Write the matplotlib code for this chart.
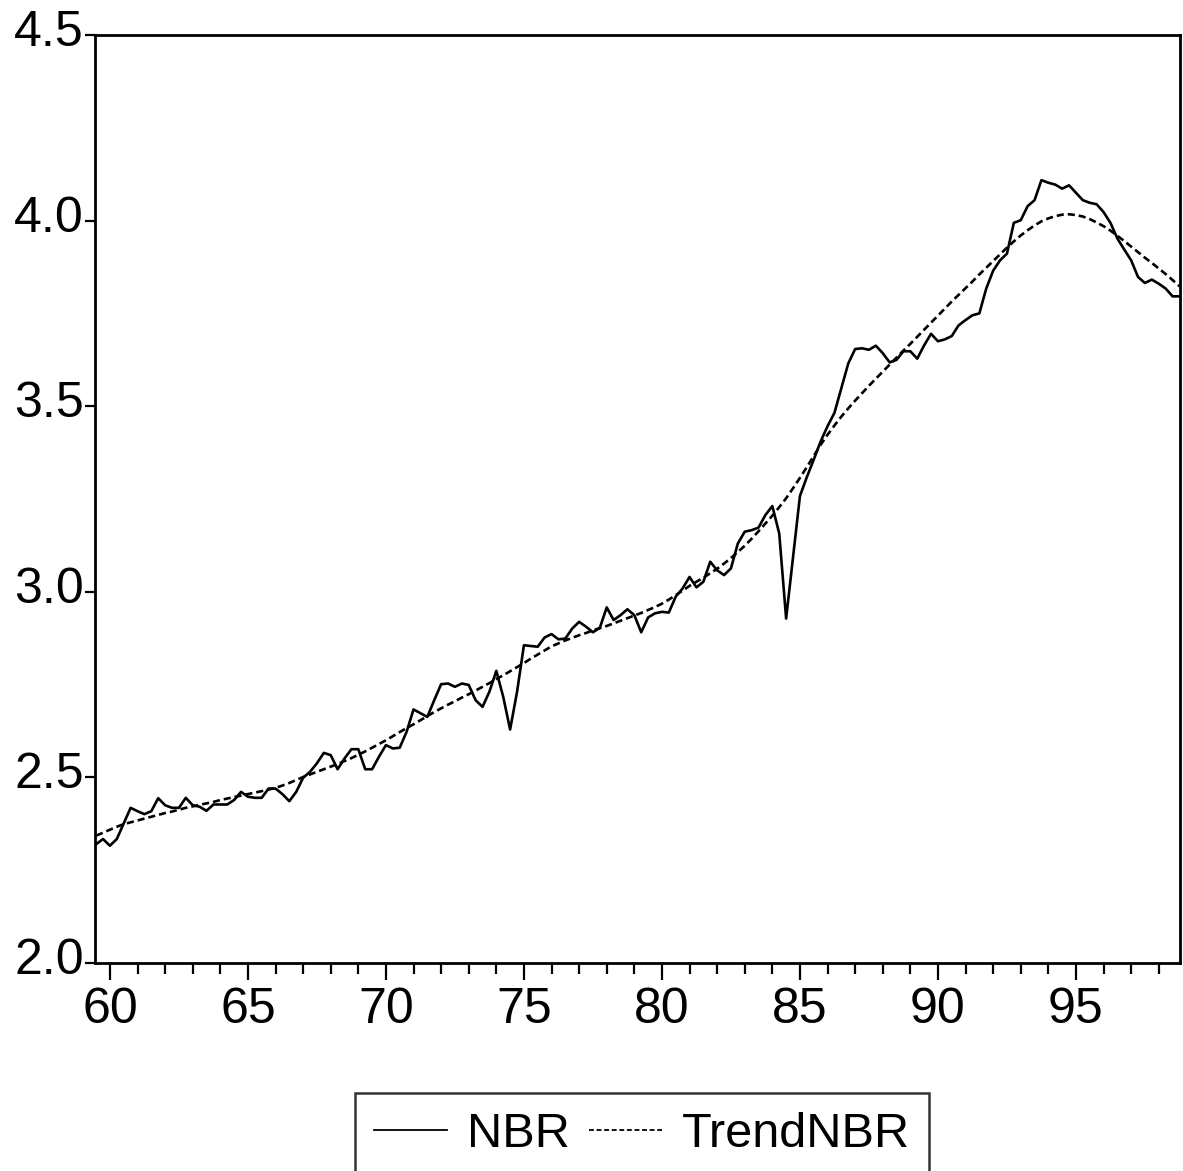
import matplotlib
matplotlib.use("Agg")
import matplotlib.pyplot as plt
import matplotlib.transforms as mtransforms
import numpy as np

plt.rcParams['font.family'] = ['Liberation Sans', 'DejaVu Sans']

# quarterly observations, 1959Q3 .. 1998Q4 (x in years, 2-digit)
start_year = 59.5
nbr = [
    2.320, 2.334, 2.316, 2.334, 2.376, 2.418, 2.409, 2.401, 2.409, 2.444,
    2.425, 2.418, 2.418, 2.445, 2.425, 2.421, 2.410, 2.427, 2.427, 2.427,
    2.439, 2.461, 2.448, 2.445, 2.445, 2.470, 2.470, 2.455, 2.436, 2.461,
    2.499, 2.515, 2.538, 2.566, 2.560, 2.522, 2.551, 2.576, 2.576, 2.522,
    2.522, 2.556, 2.587, 2.578, 2.580, 2.623, 2.683, 2.673, 2.663, 2.708,
    2.751, 2.753, 2.744, 2.753, 2.749, 2.708, 2.690, 2.731, 2.787, 2.717,
    2.629, 2.730, 2.856, 2.854, 2.852, 2.877, 2.886, 2.872, 2.874, 2.901,
    2.919, 2.906, 2.891, 2.903, 2.958, 2.924, 2.937, 2.953, 2.937, 2.891,
    2.931, 2.942, 2.946, 2.944, 2.987, 3.009, 3.040, 3.012, 3.027, 3.081,
    3.058, 3.045, 3.063, 3.130, 3.162, 3.166, 3.173, 3.207, 3.231, 3.157,
    2.928, 3.093, 3.258, 3.309, 3.356, 3.405, 3.446, 3.482, 3.549, 3.615,
    3.654, 3.656, 3.652, 3.663, 3.643, 3.618, 3.625, 3.648, 3.648, 3.628,
    3.664, 3.695, 3.675, 3.680, 3.689, 3.718, 3.732, 3.745, 3.750, 3.817,
    3.865, 3.893, 3.911, 3.994, 4.001, 4.039, 4.055, 4.109, 4.102, 4.097,
    4.086, 4.095, 4.075, 4.055, 4.048, 4.044, 4.023, 3.994, 3.952, 3.922,
    3.893, 3.848, 3.832, 3.841, 3.830, 3.817, 3.796, 3.796,
]

trend_nbr = [
    2.343, 2.351, 2.359, 2.367, 2.374, 2.379, 2.384, 2.389, 2.394, 2.399,
    2.404, 2.408, 2.413, 2.418, 2.422, 2.426, 2.430, 2.434, 2.439, 2.443,
    2.447, 2.451, 2.455, 2.459, 2.463, 2.467, 2.472, 2.478, 2.485, 2.493,
    2.501, 2.508, 2.515, 2.522, 2.529, 2.536, 2.544, 2.552, 2.561, 2.570,
    2.580, 2.590, 2.600, 2.611, 2.622, 2.633, 2.643, 2.654, 2.665, 2.676,
    2.686, 2.696, 2.705, 2.715, 2.724, 2.734, 2.744, 2.754, 2.765, 2.775,
    2.786, 2.797, 2.808, 2.820, 2.831, 2.842, 2.853, 2.861, 2.869, 2.876,
    2.883, 2.889, 2.896, 2.902, 2.908, 2.915, 2.922, 2.929, 2.936, 2.943,
    2.951, 2.959, 2.968, 2.979, 2.991, 3.003, 3.016, 3.027, 3.038, 3.050,
    3.062, 3.076, 3.091, 3.107, 3.124, 3.143, 3.163, 3.184, 3.205, 3.228,
    3.252, 3.279, 3.307, 3.336, 3.366, 3.396, 3.423, 3.448, 3.472, 3.494,
    3.515, 3.535, 3.555, 3.574, 3.593, 3.612, 3.631, 3.650, 3.668, 3.687,
    3.706, 3.725, 3.744, 3.763, 3.782, 3.800, 3.818, 3.836, 3.855, 3.873,
    3.891, 3.909, 3.927, 3.944, 3.960, 3.974, 3.987, 3.998, 4.006, 4.012,
    4.016, 4.017, 4.015, 4.011, 4.004, 3.995, 3.985, 3.973, 3.959, 3.945,
    3.930, 3.915, 3.900, 3.886, 3.871, 3.856, 3.840, 3.823,
]

major_ticks = [60, 65, 70, 75, 80, 85, 90, 95]
major_labels = ['60', '65', '70', '75', '80', '85', '90', '95']
minor_ticks = [y for y in range(61, 99) if y % 5 != 0]
y_ticks = [2.0, 2.5, 3.0, 3.5, 4.0, 4.5]
y_labels = ['2.0', '2.5', '3.0', '3.5', '4.0', '4.5']
series_names = ['NBR', 'TrendNBR']

x = start_year + 0.25 * np.arange(len(nbr))

W, H = 1183, 1171
fig = plt.figure(figsize=(W / 100, H / 100), dpi=100)
ax = fig.add_axes([95 / W, 1 - 963 / H, (1180 - 95) / W, (963 - 35) / H])

ax.plot(x, nbr, color='black', lw=1.9, label=series_names[0])
ax.plot(x, trend_nbr, color='black', lw=1.9, linestyle=(0, (2.7, 1.5)),
        label=series_names[1])

ax.set_xlim(59.46, 98.77)
ax.set_ylim(2.0, 4.5)

ax.set_xticks(major_ticks)
ax.set_xticklabels(major_labels)
ax.set_xticks(minor_ticks, minor=True)
ax.set_yticks(y_ticks)
ax.set_yticklabels(y_labels)

for s in ax.spines.values():
    s.set_linewidth(2.0)
    s.set_color('black')

ax.tick_params(axis='x', which='major', direction='out', length=12, width=1.6,
               labelsize=36, pad=5, top=False)
ax.tick_params(axis='x', which='minor', direction='out', length=8, width=1.6,
               top=False)
ax.tick_params(axis='y', which='major', direction='out', length=7, width=1.6,
               labelsize=36, pad=1, right=False)

offset = mtransforms.ScaledTranslation(0, 7 / 100, fig.dpi_scale_trans)
for lab in ax.get_yticklabels():
    lab.set_transform(lab.get_transform() + offset)

leg = fig.legend(loc='upper left', bbox_to_anchor=(355 / W, 1 - 1093 / H),
                 bbox_transform=fig.transFigure, ncol=2, fontsize=35,
                 frameon=True, fancybox=False, borderpad=0.4,
                 handlelength=1.5, handletextpad=0.4, columnspacing=0.4,
                 borderaxespad=0)
leg.get_frame().set_edgecolor('black')
leg.get_frame().set_linewidth(1.8)
for line in leg.get_lines():
    line.set_linewidth(1.3)

fig.savefig('out.png', dpi=100, facecolor='white')
